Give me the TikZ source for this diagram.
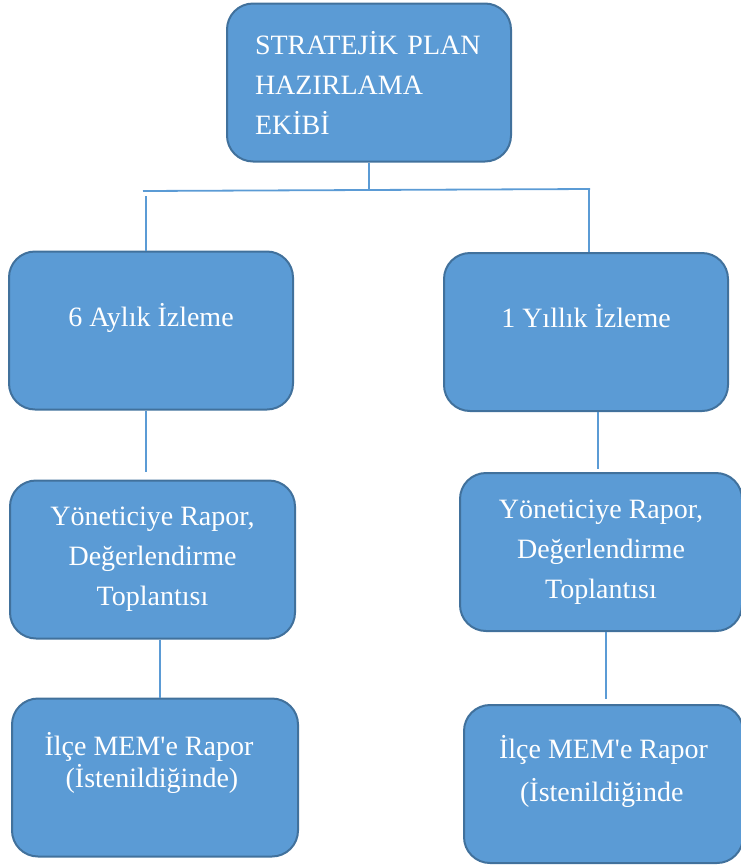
\documentclass[tikz,border=0pt]{standalone}
\usepackage{fontspec}
\setmainfont{Liberation Serif}
\definecolor{boxfill}{HTML}{5B9BD5}
\definecolor{boxedge}{HTML}{41719C}
\definecolor{linkblue}{HTML}{5B9BD5}
\tikzset{
  box/.style={draw=boxedge,fill=boxfill,rounded corners=26pt,line width=2pt,
    text=white,minimum width=284pt,minimum height=158pt,inner sep=0pt,
    font=\fontsize{28}{40}\selectfont},
  link/.style={draw=linkblue,line width=1.8pt}
}
\begin{document}
\begin{tikzpicture}[x=1pt,y=-1pt]
\useasboundingbox (0,0) rectangle (741,868);

% Top box
\node[box,align=left,text width=228pt] (top) at (369,82.5)
  {STRATEJİK PLAN\\HAZIRLAMA\\EKİBİ};

% First level
\node[box,text depth=31pt] (l1) at (151,330.5) {6 Aylık İzleme};
\node[box,text depth=33pt] (r1) at (586,332) {1 Yıllık İzleme};

% Second level
\node[box,align=center,minimum width=285pt] (l2) at (152.5,559.5)
  {Yöneticiye Rapor,\\Değerlendirme\\Toplantısı};
\node[box,align=center,minimum width=282pt] (r2) at (601,552)
  {Yöneticiye Rapor,\\Değerlendirme\\Toplantısı};

% Third level
\node[box,align=left,minimum width=286pt,text depth=35pt] (l3) at (155,777.5)
  {İlçe MEM\textquotesingle e Rapor\hspace*{12pt}\\[-8pt]\hspace*{21pt}(İstenildiğinde)};
\node[box,align=left,minimum width=279pt,text depth=32pt] (r3) at (603.5,784)
  {İlçe MEM\textquotesingle e Rapor\\[3pt]\hspace*{21pt}(İstenildiğinde};

% Bus under the top box
\coordinate (busl) at (143,191);
\coordinate (busr) at (590,189);
\coordinate (jl) at (146,196);
\coordinate (jr) at (589,189);
\draw[link] (busl) -- (busr);
\draw[link] (top.south) -- (top.south |- busr);
\draw[link] (jl) -- (jl |- l1.north);
\draw[link] (jr) -- (jr |- r1.north);

% Drops between levels
\draw[link] ([xshift=-5pt]l1.south) -- ++(0,61);
\draw[link] ([xshift=12pt]r1.south) -- ++(0,57);
\draw[link] ([xshift=7.5pt]l2.south) -- ([xshift=7.5pt]l2.south |- l3.north);
\draw[link] ([xshift=5pt]r2.south) -- ++(0,67);
\end{tikzpicture}
\end{document}
